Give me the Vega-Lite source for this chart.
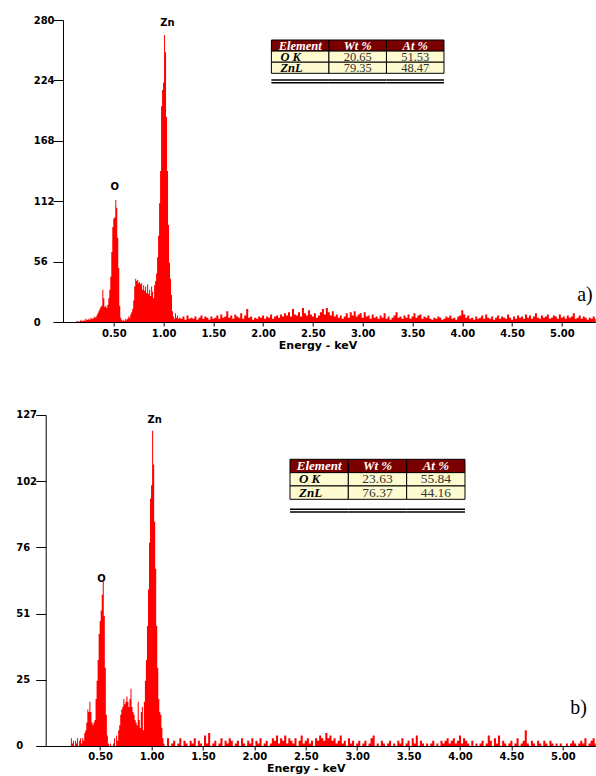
{
"$schema":"https://vega.github.io/schema/vega-lite/v6.json",
"background":"white",
"padding":{"left":15.7,"top":15,"right":0,"bottom":0},
"spacing":60,
"config":{
  "view":{"stroke":null},
  "axis":{"domainColor":"#000","tickColor":"#000","labelColor":"#000","titleColor":"#000","labelFont":"DejaVu Sans","titleFont":"DejaVu Sans","labelFontWeight":"bold","titleFontWeight":"bold","labelFontSize":10,"titleFontSize":11,"grid":false,"domainWidth":1,"tickWidth":1}
},
"datasets":{
"a":[
{"e":0.12,"c":0},{"e":0.13,"c":1},{"e":0.14,"c":1},{"e":0.15,"c":0},{"e":0.16,"c":1},{"e":0.17,"c":2},{"e":0.18,"c":1},{"e":0.19,"c":1},{"e":0.20,"c":2},{"e":0.21,"c":1},{"e":0.22,"c":3},{"e":0.23,"c":2},{"e":0.24,"c":2},{"e":0.25,"c":3},{"e":0.26,"c":2},{"e":0.27,"c":4},{"e":0.28,"c":3},{"e":0.29,"c":3},{"e":0.30,"c":4},{"e":0.31,"c":5},{"e":0.32,"c":4},{"e":0.33,"c":6},{"e":0.34,"c":8},{"e":0.35,"c":10},{"e":0.36,"c":12},{"e":0.37,"c":14},{"e":0.38,"c":15},{"e":0.39,"c":30},{"e":0.40,"c":22},{"e":0.41,"c":14},{"e":0.42,"c":15},{"e":0.43,"c":13},{"e":0.44,"c":16},{"e":0.45,"c":22},{"e":0.46,"c":30},{"e":0.47,"c":42},{"e":0.48,"c":65},{"e":0.49,"c":88},{"e":0.50,"c":96},{"e":0.51,"c":97},{"e":0.52,"c":113},{"e":0.53,"c":106},{"e":0.54,"c":78},{"e":0.55,"c":50},{"e":0.56,"c":15},{"e":0.57,"c":4},{"e":0.58,"c":2},{"e":0.59,"c":1},{"e":0.60,"c":2},{"e":0.61,"c":1},{"e":0.62,"c":3},{"e":0.63,"c":2},{"e":0.64,"c":3},{"e":0.65,"c":5},{"e":0.66,"c":4},{"e":0.67,"c":7},{"e":0.68,"c":9},{"e":0.69,"c":12},{"e":0.70,"c":20},{"e":0.71,"c":33},{"e":0.72,"c":40},{"e":0.73,"c":38},{"e":0.74,"c":39},{"e":0.75,"c":36},{"e":0.76,"c":37},{"e":0.77,"c":35},{"e":0.78,"c":36},{"e":0.79,"c":30},{"e":0.80,"c":34},{"e":0.81,"c":29},{"e":0.82,"c":33},{"e":0.83,"c":27},{"e":0.84,"c":35},{"e":0.85,"c":26},{"e":0.86,"c":30},{"e":0.87,"c":24},{"e":0.88,"c":33},{"e":0.89,"c":28},{"e":0.90,"c":22},{"e":0.91,"c":34},{"e":0.92,"c":38},{"e":0.93,"c":45},{"e":0.94,"c":60},{"e":0.95,"c":80},{"e":0.96,"c":110},{"e":0.97,"c":140},{"e":0.98,"c":200},{"e":0.99,"c":215},{"e":1.00,"c":222},{"e":1.01,"c":266},{"e":1.02,"c":250},{"e":1.03,"c":190},{"e":1.04,"c":140},{"e":1.05,"c":90},{"e":1.06,"c":55},{"e":1.07,"c":40},{"e":1.08,"c":25},{"e":1.09,"c":10},{"e":1.10,"c":5},{"e":1.11,"c":3},{"e":1.12,"c":8},{"e":1.13,"c":4},{"e":1.14,"c":6},{"e":1.15,"c":3},
{"e":1.16,"c":4},{"e":1.18,"c":3},{"e":1.20,"c":5},{"e":1.22,"c":2},{"e":1.24,"c":6},{"e":1.26,"c":3},{"e":1.28,"c":4},{"e":1.30,"c":3},{"e":1.32,"c":5},{"e":1.34,"c":2},{"e":1.36,"c":4},{"e":1.38,"c":6},{"e":1.40,"c":3},{"e":1.42,"c":5},{"e":1.44,"c":4},{"e":1.46,"c":2},{"e":1.48,"c":5},{"e":1.50,"c":3},{"e":1.52,"c":4},{"e":1.54,"c":6},{"e":1.56,"c":3},{"e":1.58,"c":7},{"e":1.60,"c":4},{"e":1.62,"c":5},{"e":1.64,"c":10},{"e":1.66,"c":4},{"e":1.68,"c":6},{"e":1.70,"c":3},{"e":1.72,"c":7},{"e":1.74,"c":5},{"e":1.76,"c":4},{"e":1.78,"c":8},{"e":1.80,"c":3},{"e":1.82,"c":6},{"e":1.84,"c":12},{"e":1.86,"c":4},{"e":1.88,"c":5},{"e":1.90,"c":2},{"e":1.92,"c":4},{"e":1.94,"c":3},{"e":1.96,"c":5},{"e":1.98,"c":4},{"e":2.00,"c":6},{"e":2.02,"c":3},{"e":2.04,"c":5},{"e":2.06,"c":4},{"e":2.08,"c":7},{"e":2.10,"c":3},{"e":2.12,"c":5},{"e":2.14,"c":6},{"e":2.16,"c":4},{"e":2.18,"c":7},{"e":2.20,"c":5},{"e":2.22,"c":8},{"e":2.24,"c":6},{"e":2.26,"c":9},{"e":2.28,"c":5},{"e":2.30,"c":12},{"e":2.32,"c":7},{"e":2.34,"c":6},{"e":2.36,"c":9},{"e":2.38,"c":5},{"e":2.40,"c":13},{"e":2.42,"c":8},{"e":2.44,"c":6},{"e":2.46,"c":11},{"e":2.48,"c":7},{"e":2.50,"c":5},{"e":2.52,"c":8},{"e":2.54,"c":4},{"e":2.56,"c":6},{"e":2.58,"c":9},{"e":2.60,"c":12},{"e":2.62,"c":7},{"e":2.64,"c":13},{"e":2.66,"c":9},{"e":2.68,"c":6},{"e":2.70,"c":10},{"e":2.72,"c":5},{"e":2.74,"c":7},{"e":2.76,"c":4},{"e":2.78,"c":6},{"e":2.80,"c":3},{"e":2.82,"c":5},{"e":2.84,"c":8},{"e":2.86,"c":4},{"e":2.88,"c":9},{"e":2.90,"c":6},{"e":2.92,"c":10},{"e":2.94,"c":5},{"e":2.96,"c":7},{"e":2.98,"c":8},{"e":3.00,"c":4},{"e":3.02,"c":9},{"e":3.04,"c":5},{"e":3.06,"c":6},{"e":3.08,"c":3},{"e":3.10,"c":7},{"e":3.12,"c":4},{"e":3.14,"c":5},{"e":3.16,"c":3},{"e":3.18,"c":6},{"e":3.20,"c":4},{"e":3.22,"c":8},{"e":3.24,"c":3},{"e":3.26,"c":5},{"e":3.28,"c":2},{"e":3.30,"c":4},{"e":3.32,"c":6},{"e":3.34,"c":9},{"e":3.36,"c":4},{"e":3.38,"c":5},{"e":3.40,"c":3},{"e":3.42,"c":6},{"e":3.44,"c":4},{"e":3.46,"c":7},{"e":3.48,"c":3},{"e":3.50,"c":5},{"e":3.52,"c":8},{"e":3.54,"c":4},{"e":3.56,"c":6},{"e":3.58,"c":7},{"e":3.60,"c":3},{"e":3.62,"c":5},{"e":3.64,"c":4},{"e":3.66,"c":6},{"e":3.68,"c":3},{"e":3.70,"c":2},{"e":3.72,"c":4},{"e":3.74,"c":3},{"e":3.76,"c":5},{"e":3.78,"c":4},{"e":3.80,"c":2},{"e":3.82,"c":3},{"e":3.84,"c":5},{"e":3.86,"c":4},{"e":3.88,"c":6},{"e":3.90,"c":3},{"e":3.92,"c":4},{"e":3.94,"c":2},{"e":3.96,"c":5},{"e":3.98,"c":6},{"e":4.00,"c":11},{"e":4.02,"c":7},{"e":4.04,"c":4},{"e":4.06,"c":6},{"e":4.08,"c":3},{"e":4.10,"c":4},{"e":4.12,"c":2},{"e":4.14,"c":5},{"e":4.16,"c":3},{"e":4.18,"c":4},{"e":4.20,"c":6},{"e":4.22,"c":3},{"e":4.24,"c":7},{"e":4.26,"c":4},{"e":4.28,"c":3},{"e":4.30,"c":5},{"e":4.32,"c":2},{"e":4.34,"c":4},{"e":4.36,"c":6},{"e":4.38,"c":3},{"e":4.40,"c":5},{"e":4.42,"c":4},{"e":4.44,"c":3},{"e":4.46,"c":7},{"e":4.48,"c":4},{"e":4.50,"c":2},{"e":4.52,"c":5},{"e":4.54,"c":3},{"e":4.56,"c":6},{"e":4.58,"c":4},{"e":4.60,"c":5},{"e":4.62,"c":3},{"e":4.64,"c":7},{"e":4.66,"c":4},{"e":4.68,"c":6},{"e":4.70,"c":3},{"e":4.72,"c":5},{"e":4.74,"c":8},{"e":4.76,"c":4},{"e":4.78,"c":3},{"e":4.80,"c":6},{"e":4.82,"c":4},{"e":4.84,"c":5},{"e":4.86,"c":7},{"e":4.88,"c":3},{"e":4.90,"c":4},{"e":4.92,"c":6},{"e":4.94,"c":5},{"e":4.96,"c":3},{"e":4.98,"c":7},{"e":5.00,"c":4},{"e":5.02,"c":5},{"e":5.04,"c":3},{"e":5.06,"c":6},{"e":5.08,"c":4},{"e":5.10,"c":5},{"e":5.12,"c":8},{"e":5.14,"c":3},{"e":5.16,"c":4},{"e":5.18,"c":6},{"e":5.20,"c":3},{"e":5.22,"c":5},{"e":5.24,"c":4},{"e":5.26,"c":2},{"e":5.28,"c":4},{"e":5.30,"c":3},{"e":5.32,"c":5},{"e":5.34,"c":3}
],
"b":[
{"e":0.21,"c":0},{"e":0.22,"c":3},{"e":0.23,"c":1},{"e":0.24,"c":2},{"e":0.25,"c":0},{"e":0.26,"c":2},{"e":0.27,"c":1},{"e":0.28,"c":3},{"e":0.29,"c":0},{"e":0.30,"c":2},{"e":0.31,"c":3},{"e":0.32,"c":1},{"e":0.33,"c":3},{"e":0.34,"c":2},{"e":0.35,"c":5},{"e":0.36,"c":6},{"e":0.37,"c":9},{"e":0.38,"c":14},{"e":0.39,"c":13},{"e":0.40,"c":17},{"e":0.41,"c":13},{"e":0.42,"c":9},{"e":0.43,"c":8},{"e":0.44,"c":9},{"e":0.45,"c":10},{"e":0.46,"c":18},{"e":0.47,"c":25},{"e":0.48,"c":33},{"e":0.49,"c":43},{"e":0.50,"c":48},{"e":0.51,"c":52},{"e":0.52,"c":58},{"e":0.53,"c":63},{"e":0.54,"c":50},{"e":0.55,"c":30},{"e":0.56,"c":12},{"e":0.57,"c":4},{"e":0.58,"c":1},{"e":0.59,"c":0},{"e":0.60,"c":1},{"e":0.61,"c":0},{"e":0.62,"c":0},{"e":0.63,"c":1},{"e":0.64,"c":3},{"e":0.65,"c":0},{"e":0.66,"c":4},{"e":0.67,"c":2},{"e":0.68,"c":6},{"e":0.69,"c":8},{"e":0.70,"c":12},{"e":0.71,"c":14},{"e":0.72,"c":15},{"e":0.73,"c":18},{"e":0.74,"c":16},{"e":0.75,"c":17},{"e":0.76,"c":19},{"e":0.77,"c":17},{"e":0.78,"c":15},{"e":0.79,"c":18},{"e":0.80,"c":22},{"e":0.81,"c":15},{"e":0.82,"c":13},{"e":0.83,"c":12},{"e":0.84,"c":10},{"e":0.85,"c":9},{"e":0.86,"c":8},{"e":0.87,"c":17},{"e":0.88,"c":10},{"e":0.89,"c":7},{"e":0.90,"c":13},{"e":0.91,"c":15},{"e":0.92,"c":6},{"e":0.93,"c":17},{"e":0.94,"c":25},{"e":0.95,"c":33},{"e":0.96,"c":46},{"e":0.97,"c":60},{"e":0.98,"c":78},{"e":0.99,"c":95},{"e":1.00,"c":100},{"e":1.01,"c":121},{"e":1.02,"c":108},{"e":1.03,"c":86},{"e":1.04,"c":68},{"e":1.05,"c":46},{"e":1.06,"c":30},{"e":1.07,"c":18},{"e":1.08,"c":13},{"e":1.09,"c":12},{"e":1.10,"c":7},{"e":1.11,"c":3},{"e":1.12,"c":1},{"e":1.13,"c":0},
{"e":1.14,"c":0},{"e":1.16,"c":3},{"e":1.18,"c":0},{"e":1.20,"c":1},{"e":1.22,"c":2},{"e":1.24,"c":0},{"e":1.26,"c":1},{"e":1.28,"c":3},{"e":1.30,"c":0},{"e":1.32,"c":2},{"e":1.34,"c":1},{"e":1.36,"c":0},{"e":1.38,"c":2},{"e":1.40,"c":1},{"e":1.42,"c":3},{"e":1.44,"c":0},{"e":1.46,"c":2},{"e":1.48,"c":1},{"e":1.50,"c":0},{"e":1.52,"c":4},{"e":1.54,"c":1},{"e":1.56,"c":5},{"e":1.58,"c":0},{"e":1.60,"c":1},{"e":1.62,"c":2},{"e":1.64,"c":0},{"e":1.66,"c":1},{"e":1.68,"c":3},{"e":1.70,"c":0},{"e":1.72,"c":2},{"e":1.74,"c":1},{"e":1.76,"c":3},{"e":1.78,"c":2},{"e":1.80,"c":0},{"e":1.82,"c":1},{"e":1.84,"c":2},{"e":1.86,"c":0},{"e":1.88,"c":3},{"e":1.90,"c":1},{"e":1.92,"c":0},{"e":1.94,"c":2},{"e":1.96,"c":1},{"e":1.98,"c":3},{"e":2.00,"c":0},{"e":2.02,"c":2},{"e":2.04,"c":1},{"e":2.06,"c":3},{"e":2.08,"c":0},{"e":2.10,"c":1},{"e":2.12,"c":2},{"e":2.14,"c":0},{"e":2.16,"c":1},{"e":2.18,"c":3},{"e":2.20,"c":2},{"e":2.22,"c":4},{"e":2.24,"c":1},{"e":2.26,"c":3},{"e":2.28,"c":2},{"e":2.30,"c":4},{"e":2.32,"c":1},{"e":2.34,"c":3},{"e":2.36,"c":2},{"e":2.38,"c":1},{"e":2.40,"c":3},{"e":2.42,"c":0},{"e":2.44,"c":2},{"e":2.46,"c":4},{"e":2.48,"c":1},{"e":2.50,"c":2},{"e":2.52,"c":3},{"e":2.54,"c":1},{"e":2.56,"c":2},{"e":2.58,"c":0},{"e":2.60,"c":3},{"e":2.62,"c":2},{"e":2.64,"c":4},{"e":2.66,"c":3},{"e":2.68,"c":2},{"e":2.70,"c":5},{"e":2.72,"c":3},{"e":2.74,"c":4},{"e":2.76,"c":2},{"e":2.78,"c":3},{"e":2.80,"c":1},{"e":2.82,"c":2},{"e":2.84,"c":4},{"e":2.86,"c":1},{"e":2.88,"c":2},{"e":2.90,"c":0},{"e":2.92,"c":3},{"e":2.94,"c":1},{"e":2.96,"c":2},{"e":2.98,"c":0},{"e":3.00,"c":1},{"e":3.02,"c":2},{"e":3.04,"c":0},{"e":3.06,"c":1},{"e":3.08,"c":2},{"e":3.10,"c":0},{"e":3.12,"c":1},{"e":3.14,"c":3},{"e":3.16,"c":4},{"e":3.18,"c":0},{"e":3.20,"c":1},{"e":3.22,"c":0},{"e":3.24,"c":2},{"e":3.26,"c":1},{"e":3.28,"c":0},{"e":3.30,"c":1},{"e":3.32,"c":2},{"e":3.34,"c":0},{"e":3.36,"c":1},{"e":3.38,"c":0},{"e":3.40,"c":2},{"e":3.42,"c":1},{"e":3.44,"c":3},{"e":3.46,"c":0},{"e":3.48,"c":1},{"e":3.50,"c":2},{"e":3.52,"c":0},{"e":3.54,"c":3},{"e":3.56,"c":1},{"e":3.58,"c":4},{"e":3.60,"c":0},{"e":3.62,"c":2},{"e":3.64,"c":1},{"e":3.66,"c":0},{"e":3.68,"c":1},{"e":3.70,"c":0},{"e":3.72,"c":1},{"e":3.74,"c":2},{"e":3.76,"c":0},{"e":3.78,"c":1},{"e":3.80,"c":0},{"e":3.82,"c":2},{"e":3.84,"c":1},{"e":3.86,"c":2},{"e":3.88,"c":3},{"e":3.90,"c":1},{"e":3.92,"c":2},{"e":3.94,"c":3},{"e":3.96,"c":1},{"e":3.98,"c":2},{"e":4.00,"c":4},{"e":4.02,"c":1},{"e":4.04,"c":3},{"e":4.06,"c":2},{"e":4.08,"c":1},{"e":4.10,"c":0},{"e":4.12,"c":2},{"e":4.14,"c":0},{"e":4.16,"c":1},{"e":4.18,"c":0},{"e":4.20,"c":1},{"e":4.22,"c":2},{"e":4.24,"c":0},{"e":4.26,"c":1},{"e":4.28,"c":4},{"e":4.30,"c":2},{"e":4.32,"c":0},{"e":4.34,"c":3},{"e":4.36,"c":1},{"e":4.38,"c":4},{"e":4.40,"c":0},{"e":4.42,"c":2},{"e":4.44,"c":1},{"e":4.46,"c":0},{"e":4.48,"c":1},{"e":4.50,"c":2},{"e":4.52,"c":0},{"e":4.54,"c":1},{"e":4.56,"c":3},{"e":4.58,"c":0},{"e":4.60,"c":1},{"e":4.62,"c":2},{"e":4.64,"c":6},{"e":4.66,"c":1},{"e":4.68,"c":0},{"e":4.70,"c":2},{"e":4.72,"c":1},{"e":4.74,"c":0},{"e":4.76,"c":2},{"e":4.78,"c":1},{"e":4.80,"c":0},{"e":4.82,"c":2},{"e":4.84,"c":1},{"e":4.86,"c":0},{"e":4.88,"c":2},{"e":4.90,"c":1},{"e":4.92,"c":0},{"e":4.94,"c":1},{"e":4.96,"c":0},{"e":4.98,"c":1},{"e":5.00,"c":0},{"e":5.02,"c":0},{"e":5.04,"c":1},{"e":5.06,"c":0},{"e":5.08,"c":1},{"e":5.10,"c":2},{"e":5.12,"c":1},{"e":5.14,"c":0},{"e":5.16,"c":1},{"e":5.18,"c":2},{"e":5.20,"c":1},{"e":5.22,"c":3},{"e":5.24,"c":0},{"e":5.26,"c":1},{"e":5.28,"c":2},{"e":5.30,"c":3},{"e":5.32,"c":1}
]
},
"vconcat":[
{
 "width":550,"height":302,
 "layer":[
  {"layer":[
    {"data":{"name":"a"},"mark":{"type":"area","interpolate":"step","color":"#ff0000"},
     "encoding":{
       "x":{"field":"e","type":"quantitative","title":"Energy - keV","scale":{"domain":[-0.01,5.34],"range":[17.3,550],"nice":false,"zero":false},"axis":{"values":[0.5,1,1.5,2,2.5,3,3.5,4,4.5,5],"format":".2f","tickSize":4,"labelPadding":2,"titlePadding":1,"labelFlush":false,"labelOverlap":false,"titleX":271.8}},
       "y":{"field":"c","type":"quantitative","title":null,"scale":{"domain":[0,280],"nice":false},"axis":{"values":[0,56,112,168,224,280],"labelAlign":"left","labelPadding":19.8,"tickSize":10,"offset":-17.3,"minExtent":0,"labelOverlap":false}}
     }},
    {"data":{"values":[{"t":"O","e":0.51,"c":125},{"t":"Zn","e":1.04,"c":277}]},
     "mark":{"type":"text","font":"DejaVu Sans","fontWeight":"bold","fontSize":10,"color":"#000"},
     "encoding":{"x":{"field":"e","type":"quantitative","title":"Energy - keV"},"y":{"field":"c","type":"quantitative","title":null},"text":{"field":"t"}}},
    {"data":{"values":[{"t":"a)","e":5.31,"c":25}]},
     "mark":{"type":"text","font":"Liberation Serif","fontSize":20,"align":"right","color":"#000"},
     "encoding":{"x":{"field":"e","type":"quantitative","title":"Energy - keV"},"y":{"field":"c","type":"quantitative","title":null},"text":{"field":"t"}}}
  ]},
  {"data":{"values":[
    {"row":"Element","col":"Element","t":"Element"},{"row":"Element","col":"Wt %","t":"Wt %"},{"row":"Element","col":"At %","t":"At %"},
    {"row":"O K","col":"Element","t":"O K"},{"row":"O K","col":"Wt %","t":"20.65"},{"row":"O K","col":"At %","t":"51.53"},
    {"row":"ZnL","col":"Element","t":"ZnL"},{"row":"ZnL","col":"Wt %","t":"79.35"},{"row":"ZnL","col":"At %","t":"48.47"}]},
   "encoding":{
     "x":{"field":"col","type":"nominal","axis":null,"scale":{"domain":["Element","Wt %","At %"],"range":[225.7,398.3],"paddingInner":0,"paddingOuter":0}},
     "y":{"field":"row","type":"nominal","axis":null,"scale":{"domain":["Element","O K","ZnL"],"range":[20,53.3],"paddingInner":0,"paddingOuter":0}}
   },
   "layer":[
     {"mark":{"type":"rect","stroke":"#000","strokeWidth":1},
      "encoding":{"fill":{"condition":{"test":"datum.row === 'Element'","value":"#7a0000"},"value":"#fffbd0"}}},
     {"transform":[{"filter":"datum.row === 'Element'"}],
      "mark":{"type":"text","font":"Liberation Serif","fontStyle":"italic","fontWeight":"bold","fontSize":12.5,"color":"#ffffff"},
      "encoding":{"text":{"field":"t"}}},
     {"transform":[{"filter":"datum.row !== 'Element' && datum.col === 'Element'"}],
      "mark":{"type":"text","font":"Liberation Serif","fontStyle":"italic","fontWeight":"bold","fontSize":12.5,"color":"#000","align":"left","dx":9},
      "encoding":{"x":{"field":"col","type":"nominal","bandPosition":0},"text":{"field":"t"}}},
     {"transform":[{"filter":"datum.row !== 'Element' && datum.col !== 'Element'"}],
      "mark":{"type":"text","font":"Liberation Serif","fontSize":12.5,"color":"#333"},
      "encoding":{"text":{"field":"t"}}},
     {"transform":[{"filter":"datum.row === 'ZnL'"}],
      "mark":{"type":"rule","strokeWidth":1.5,"color":"#000","yOffset":6.7},
      "encoding":{"x":{"field":"col","type":"nominal","bandPosition":0},"x2":{"field":"col","bandPosition":1},"y":{"field":"row","type":"nominal","bandPosition":1}}},
     {"transform":[{"filter":"datum.row === 'ZnL'"}],
      "mark":{"type":"rule","strokeWidth":1.5,"color":"#000","yOffset":9.5},
      "encoding":{"x":{"field":"col","type":"nominal","bandPosition":0},"x2":{"field":"col","bandPosition":1},"y":{"field":"row","type":"nominal","bandPosition":1}}}
   ]}
 ],
 "resolve":{"scale":{"x":"independent","y":"independent"}}
},
{
 "width":550,"height":331,
 "layer":[
  {"layer":[
    {"data":{"name":"b"},"mark":{"type":"area","interpolate":"step","color":"#ff0000"},
     "encoding":{
       "x":{"field":"e","type":"quantitative","title":"Energy - keV","scale":{"domain":[-0.03,5.32],"nice":false,"zero":false},"axis":{"values":[0.5,1,1.5,2,2.5,3,3.5,4,4.5,5],"format":".2f","tickSize":4,"labelPadding":2,"titlePadding":1,"labelFlush":false,"labelOverlap":false,"titleX":260}},
       "y":{"field":"c","type":"quantitative","title":null,"scale":{"domain":[0,127],"nice":false},"axis":{"values":[0,25.4,50.8,76.2,101.6,127],"format":".0f","labelAlign":"left","labelPadding":20,"tickSize":10,"minExtent":30,"labelOverlap":false}}
     }},
    {"data":{"values":[{"t":"O","e":0.514,"c":64},{"t":"Zn","e":1.03,"c":125}]},
     "mark":{"type":"text","font":"DejaVu Sans","fontWeight":"bold","fontSize":10,"color":"#000"},
     "encoding":{"x":{"field":"e","type":"quantitative","title":"Energy - keV"},"y":{"field":"c","type":"quantitative","title":null},"text":{"field":"t"}}},
    {"data":{"values":[{"t":"b)","e":5.235,"c":14.7}]},
     "mark":{"type":"text","font":"Liberation Serif","fontSize":20,"align":"right","color":"#000"},
     "encoding":{"x":{"field":"e","type":"quantitative","title":"Energy - keV"},"y":{"field":"c","type":"quantitative","title":null},"text":{"field":"t"}}}
  ]},
  {"data":{"values":[
    {"row":"Element","col":"Element","t":"Element"},{"row":"Element","col":"Wt %","t":"Wt %"},{"row":"Element","col":"At %","t":"At %"},
    {"row":"O K","col":"Element","t":"O K"},{"row":"O K","col":"Wt %","t":"23.63"},{"row":"O K","col":"At %","t":"55.84"},
    {"row":"ZnL","col":"Element","t":"ZnL"},{"row":"ZnL","col":"Wt %","t":"76.37"},{"row":"ZnL","col":"At %","t":"44.16"}]},
   "encoding":{
     "x":{"field":"col","type":"nominal","axis":null,"scale":{"domain":["Element","Wt %","At %"],"range":[244.3,419.3],"paddingInner":0,"paddingOuter":0}},
     "y":{"field":"row","type":"nominal","axis":null,"scale":{"domain":["Element","O K","ZnL"],"range":[44.3,84.3],"paddingInner":0,"paddingOuter":0}}
   },
   "layer":[
     {"mark":{"type":"rect","stroke":"#000","strokeWidth":1},
      "encoding":{"fill":{"condition":{"test":"datum.row === 'Element'","value":"#7a0000"},"value":"#fffbd0"}}},
     {"transform":[{"filter":"datum.row === 'Element'"}],
      "mark":{"type":"text","font":"Liberation Serif","fontStyle":"italic","fontWeight":"bold","fontSize":13,"color":"#ffffff"},
      "encoding":{"text":{"field":"t"}}},
     {"transform":[{"filter":"datum.row !== 'Element' && datum.col === 'Element'"}],
      "mark":{"type":"text","font":"Liberation Serif","fontStyle":"italic","fontWeight":"bold","fontSize":13,"color":"#000","align":"left","dx":9},
      "encoding":{"x":{"field":"col","type":"nominal","bandPosition":0},"text":{"field":"t"}}},
     {"transform":[{"filter":"datum.row !== 'Element' && datum.col !== 'Element'"}],
      "mark":{"type":"text","font":"Liberation Serif","fontSize":13.5,"color":"#333"},
      "encoding":{"text":{"field":"t"}}},
     {"transform":[{"filter":"datum.row === 'ZnL'"}],
      "mark":{"type":"rule","strokeWidth":1.5,"color":"#000","yOffset":10},
      "encoding":{"x":{"field":"col","type":"nominal","bandPosition":0},"x2":{"field":"col","bandPosition":1},"y":{"field":"row","type":"nominal","bandPosition":1}}},
     {"transform":[{"filter":"datum.row === 'ZnL'"}],
      "mark":{"type":"rule","strokeWidth":1.5,"color":"#000","yOffset":12.8},
      "encoding":{"x":{"field":"col","type":"nominal","bandPosition":0},"x2":{"field":"col","bandPosition":1},"y":{"field":"row","type":"nominal","bandPosition":1}}}
   ]}
 ],
 "resolve":{"scale":{"x":"independent","y":"independent"}}
}
]
}
